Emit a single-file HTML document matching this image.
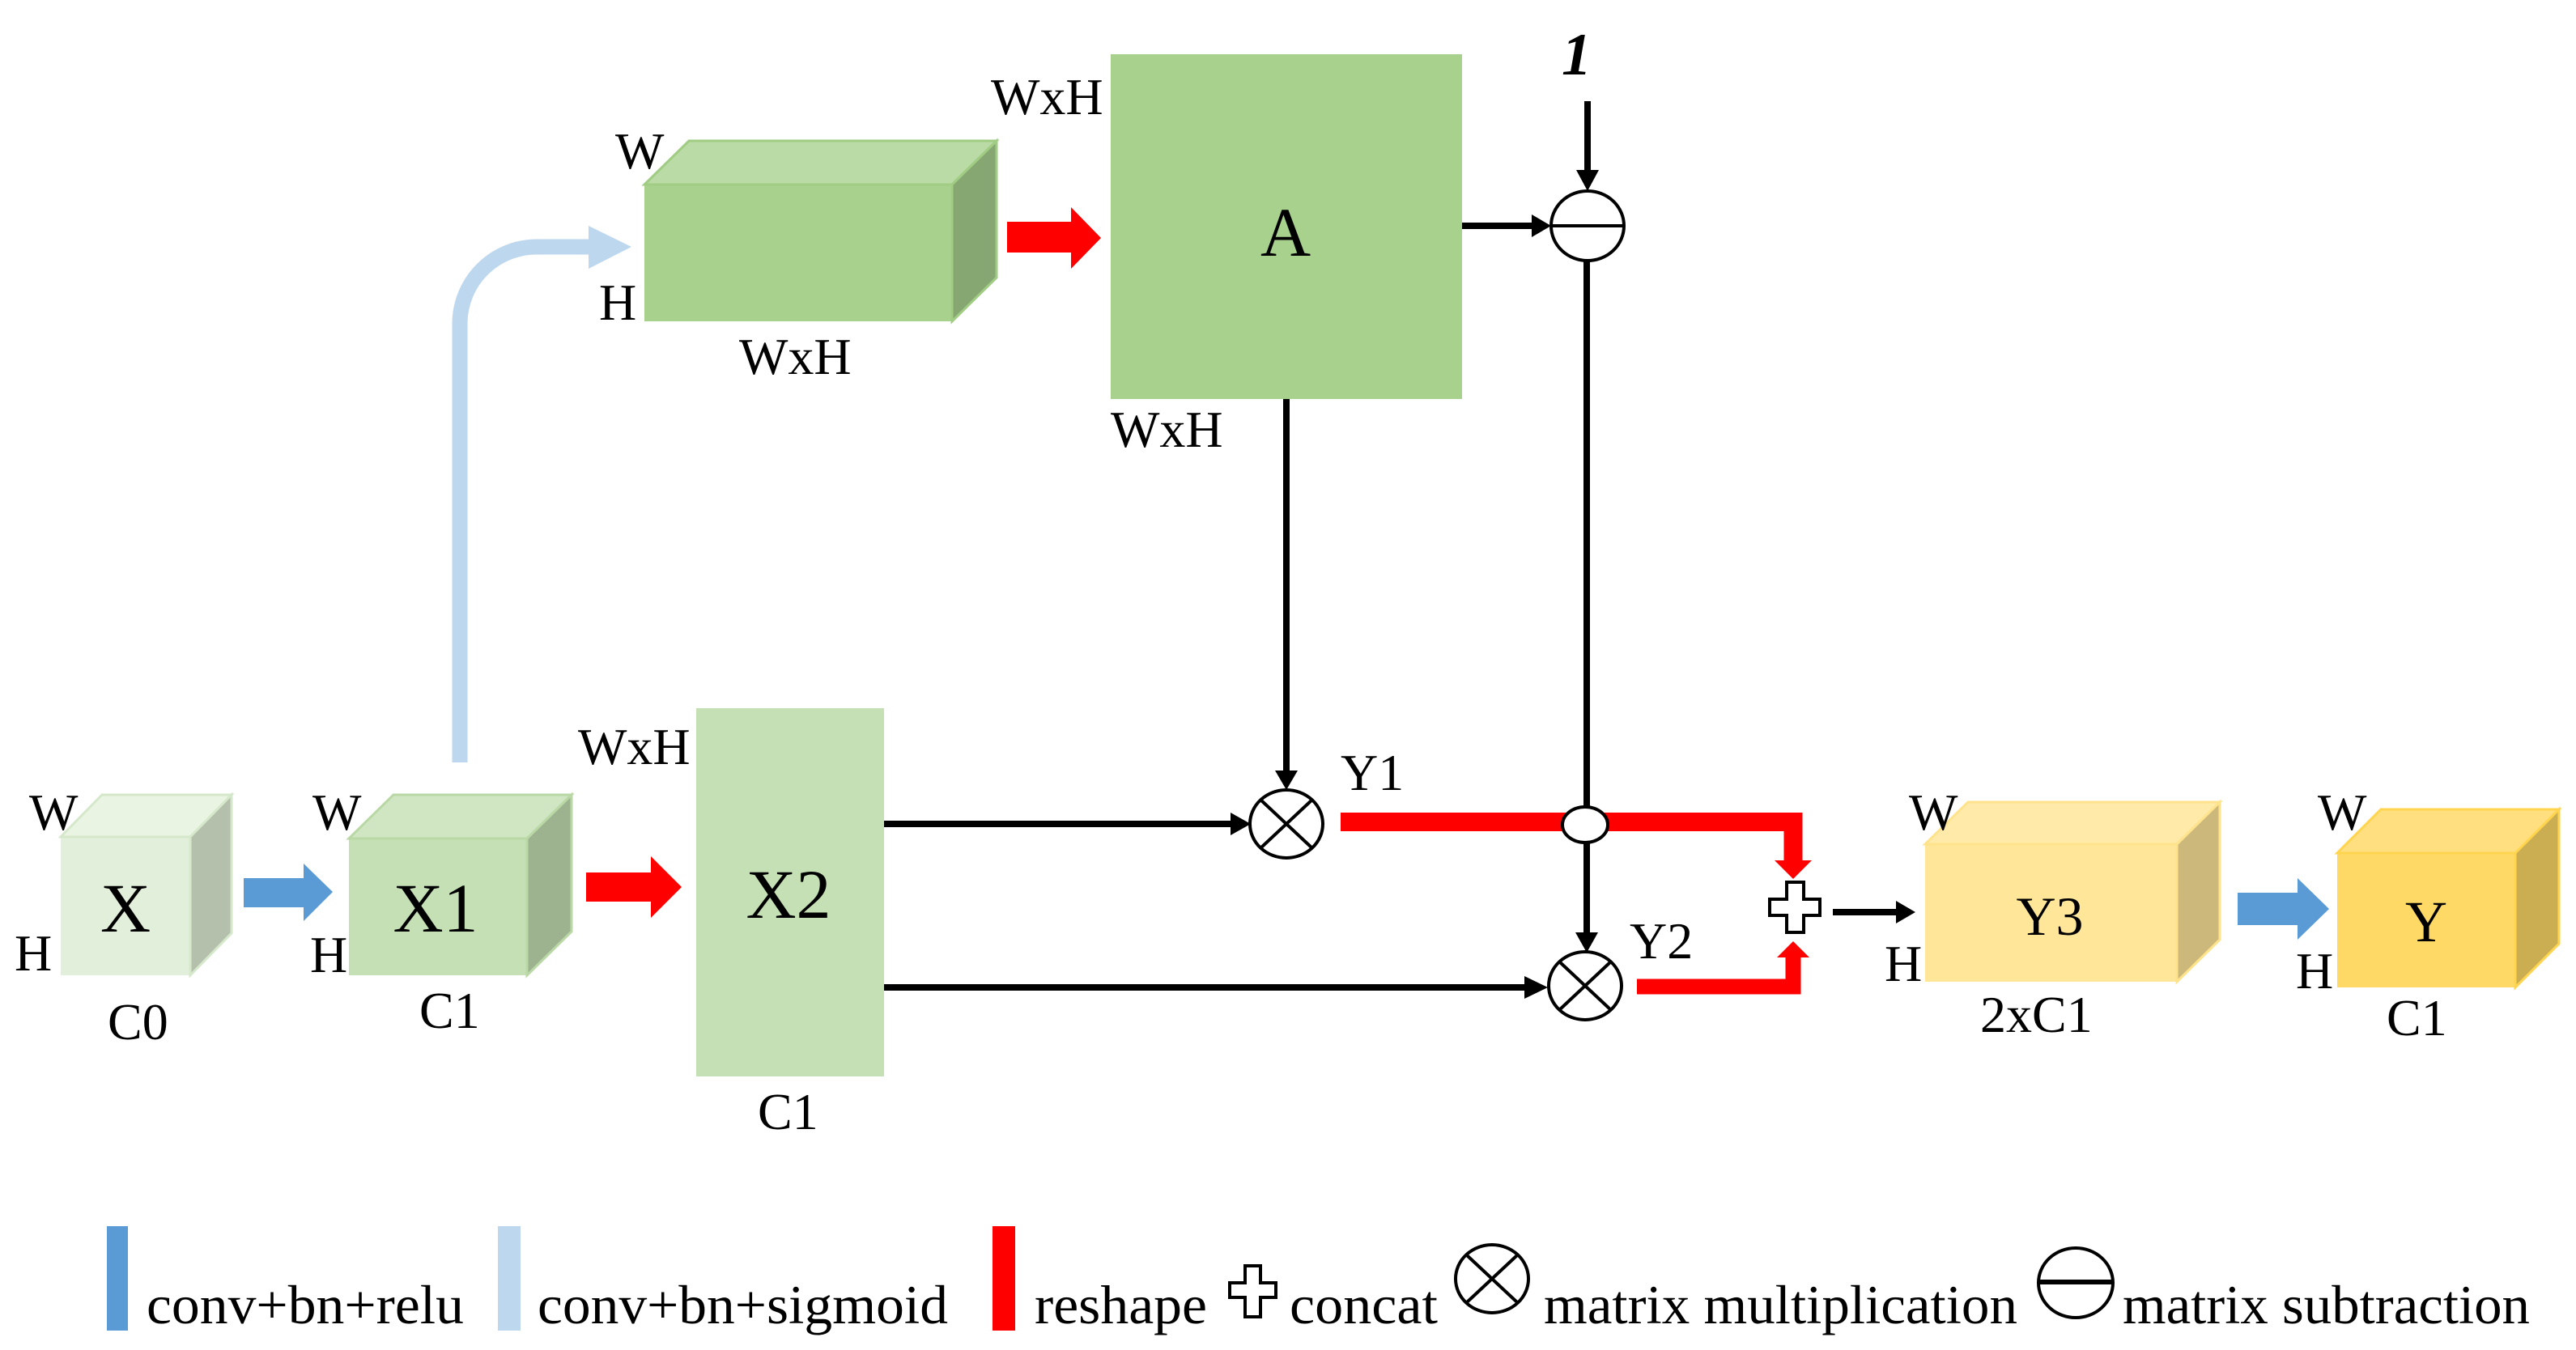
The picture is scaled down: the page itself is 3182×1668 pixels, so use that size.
<!DOCTYPE html>
<html><head><meta charset="utf-8"><style>
html,body{margin:0;padding:0;background:#fff;}
svg{display:block;}
text{font-family:"Liberation Serif","Times New Roman","DejaVu Serif","Noto Serif CJK SC",serif;fill:#000;}
</style></head><body>
<svg width="3182" height="1668" viewBox="0 0 3182 1668" xmlns="http://www.w3.org/2000/svg" font-family="Liberation Serif, DejaVu Serif, serif">
<!-- X cube -->
<rect x="75" y="1034" width="160" height="171" fill="#e2efda"/>
<polygon points="75,1034 235,1034 286,982 126,982" fill="#e9f4e2" stroke="#d6e8cb" stroke-width="3"/>
<polygon points="235,1034 286,982 286,1153 235,1205" fill="#b4c0ab" stroke="#d6e8cb" stroke-width="3"/>
<text x="155" y="1151" font-size="86" text-anchor="middle">X</text>
<text x="36" y="1025" font-size="64">W</text>
<text x="18" y="1199" font-size="64">H</text>
<text x="133" y="1284" font-size="64">C0</text>
<!-- blue arrow 1 -->
<polygon points="301,1085 375,1085 375,1067 411,1102 375,1138 375,1121 301,1121" fill="#5b9bd5"/>
<!-- X1 cube -->
<rect x="431" y="1036" width="220" height="169" fill="#c5e0b4"/>
<polygon points="431,1036 651,1036 706,982 486,982" fill="#d0e6c3" stroke="#b9d8a5" stroke-width="3"/>
<polygon points="651,1036 706,982 706,1151 651,1205" fill="#9db38f" stroke="#b9d8a5" stroke-width="3"/>
<text x="538" y="1151" font-size="86" text-anchor="middle">X1</text>
<text x="386" y="1025" font-size="64">W</text>
<text x="383" y="1201" font-size="64">H</text>
<text x="518" y="1270" font-size="64">C1</text>
<!-- red arrow 1 -->
<polygon points="724,1078 804,1078 804,1058 842,1096 804,1134 804,1114 724,1114" fill="#ff0000"/>
<!-- X2 -->
<rect x="860" y="875" width="232" height="455" fill="#c5e0b4"/>
<text x="974" y="1134" font-size="86" text-anchor="middle">X2</text>
<text x="714" y="944" font-size="64">WxH</text>
<text x="936" y="1395" font-size="64">C1</text>
<!-- light blue arrow -->
<path d="M568,942 V400 A95,95 0 0 1 663,305 H730" fill="none" stroke="#bdd7ee" stroke-width="19"/>
<polygon points="727,279 780,305 727,332" fill="#bdd7ee"/>
<!-- top cube -->
<rect x="796" y="228" width="380" height="169" fill="#a9d18e"/>
<polygon points="796,228 1176,228 1231,174 851,174" fill="#badba5" stroke="#a0cc84" stroke-width="3"/>
<polygon points="1176,228 1231,174 1231,343 1176,397" fill="#87a772" stroke="#a0cc84" stroke-width="3"/>
<text x="760" y="208" font-size="64">W</text>
<text x="740" y="395" font-size="64">H</text>
<text x="913" y="462" font-size="64">WxH</text>
<!-- red arrow 2 -->
<polygon points="1244,274 1323,274 1323,256 1360,294 1323,332 1323,312 1244,312" fill="#ff0000"/>
<!-- A -->
<rect x="1372" y="67" width="434" height="426" fill="#a9d18e"/>
<text x="1588" y="316" font-size="86" text-anchor="middle">A</text>
<text x="1224" y="141" font-size="64">WxH</text>
<text x="1372" y="552" font-size="64">WxH</text>
<!-- 1 -->
<text x="1929" y="92" font-size="74" font-style="italic" font-weight="bold">1</text>
<g stroke="#000" stroke-width="8" fill="none">
<line x1="1961" y1="125" x2="1961" y2="212"/>
<line x1="1806" y1="279" x2="1895" y2="279"/>
<line x1="1960" y1="323" x2="1960" y2="997"/>
<line x1="1960" y1="1040" x2="1960" y2="1155"/>
<line x1="1589" y1="493" x2="1589" y2="955"/>
<line x1="1092" y1="1018" x2="1525" y2="1018"/>
<line x1="1092" y1="1220" x2="1888" y2="1220"/>
<line x1="2264" y1="1127" x2="2345" y2="1127"/>
</g>
<g fill="#000">
<polygon points="1947,210 1975,210 1961,236"/>
<polygon points="1892,265 1892,293 1916,279"/>
<polygon points="1946,1152 1974,1152 1960,1177"/>
<polygon points="1575,952 1603,952 1589,976"/>
<polygon points="1520,1004 1520,1032 1545,1018"/>
<polygon points="1883,1206 1883,1234 1912,1220"/>
<polygon points="2342,1113 2342,1141 2366,1127"/>
</g>
<!-- red connectors -->
<polyline points="1656,1015.5 2215,1015.5 2215,1065" fill="none" stroke="#ff0000" stroke-width="23"/>
<polygon points="2192,1063 2238,1063 2215,1086" fill="#ff0000"/>
<polyline points="2022,1219 2215,1219 2215,1180" fill="none" stroke="#ff0000" stroke-width="19"/>
<polygon points="2195,1183 2235,1183 2215,1163" fill="#ff0000"/>
<!-- circles -->
<g stroke="#000" stroke-width="4" fill="#fff">
<ellipse cx="1961" cy="279" rx="45" ry="43"/>
<ellipse cx="1958" cy="1019" rx="28" ry="22"/>
<ellipse cx="1589" cy="1018" rx="45" ry="42"/>
<ellipse cx="1958" cy="1218" rx="45" ry="42"/>
</g>
<line x1="1916" y1="279" x2="2006" y2="279" stroke="#000" stroke-width="4"/>
<g stroke="#000" stroke-width="4">
<line x1="1557" y1="988" x2="1621" y2="1048"/><line x1="1621" y1="988" x2="1557" y2="1048"/>
<line x1="1926" y1="1188" x2="1990" y2="1248"/><line x1="1990" y1="1188" x2="1926" y2="1248"/>
</g>
<!-- plus -->
<polygon points="2207,1090 2228,1090 2228,1111 2248,1111 2248,1131 2228,1131 2228,1152 2207,1152 2207,1131 2186,1131 2186,1111 2207,1111" fill="#fff" stroke="#000" stroke-width="4"/>
<text x="1656" y="976" font-size="64">Y1</text>
<text x="2013" y="1184" font-size="64">Y2</text>
<!-- Y3 cube -->
<rect x="2378" y="1043" width="311" height="170" fill="#ffe699"/>
<polygon points="2378,1043 2689,1043 2742,991 2431,991" fill="#ffeaa9" stroke="#ffe38c" stroke-width="3"/>
<polygon points="2689,1043 2742,991 2742,1161 2689,1213" fill="#ccb87a" stroke="#ffe38c" stroke-width="3"/>
<text x="2532" y="1155" font-size="68" text-anchor="middle">Y3</text>
<text x="2358" y="1025" font-size="64">W</text>
<text x="2328" y="1212" font-size="64">H</text>
<text x="2446" y="1275" font-size="64">2xC1</text>
<!-- blue arrow 2 -->
<polygon points="2764,1103 2838,1103 2838,1085 2877,1123 2838,1161 2838,1143 2764,1143" fill="#5b9bd5"/>
<!-- Y cube -->
<rect x="2887" y="1054" width="220" height="166" fill="#ffd966"/>
<polygon points="2887,1054 3107,1054 3161,1000 2941,1000" fill="#ffdf80" stroke="#ffd54f" stroke-width="3"/>
<polygon points="3107,1054 3161,1000 3161,1166 3107,1220" fill="#ccae52" stroke="#ffd54f" stroke-width="3"/>
<text x="2997" y="1163" font-size="72" text-anchor="middle">Y</text>
<text x="2863" y="1025" font-size="64">W</text>
<text x="2836" y="1221" font-size="64">H</text>
<text x="2948" y="1279" font-size="64">C1</text>
<!-- legend -->
<rect x="132" y="1515" width="26" height="129" fill="#5b9bd5"/>
<text x="181" y="1635" font-size="68" textLength="392" lengthAdjust="spacingAndGlyphs">conv+bn+relu</text>
<rect x="615" y="1515" width="28" height="129" fill="#bdd7ee"/>
<text x="664" y="1635" font-size="68" textLength="507" lengthAdjust="spacingAndGlyphs">conv+bn+sigmoid</text>
<rect x="1226" y="1515" width="28" height="129" fill="#ff0000"/>
<text x="1278" y="1635" font-size="68" textLength="213" lengthAdjust="spacingAndGlyphs">reshape</text>
<polygon points="1538,1564 1557,1564 1557,1585 1576,1585 1576,1603 1557,1603 1557,1627 1538,1627 1538,1603 1519,1603 1519,1585 1538,1585" fill="#fff" stroke="#000" stroke-width="4"/>
<text x="1593" y="1635" font-size="68" textLength="183" lengthAdjust="spacingAndGlyphs">concat</text>
<ellipse cx="1843" cy="1580" rx="45" ry="42" fill="#fff" stroke="#000" stroke-width="4"/>
<line x1="1812" y1="1551" x2="1874" y2="1609" stroke="#000" stroke-width="4"/>
<line x1="1874" y1="1551" x2="1812" y2="1609" stroke="#000" stroke-width="4"/>
<text x="1907" y="1635" font-size="68" textLength="585" lengthAdjust="spacingAndGlyphs">matrix multiplication</text>
<ellipse cx="2564" cy="1585" rx="46" ry="43" fill="#fff" stroke="#000" stroke-width="4"/>
<line x1="2518" y1="1584" x2="2610" y2="1584" stroke="#000" stroke-width="6"/>
<text x="2622" y="1635" font-size="68" textLength="503" lengthAdjust="spacingAndGlyphs">matrix subtraction</text>
</svg>
</body></html>
